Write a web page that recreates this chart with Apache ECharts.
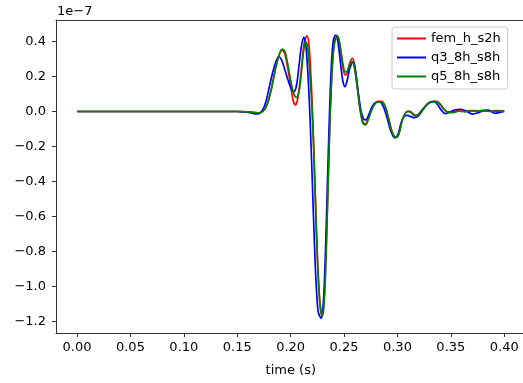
<!DOCTYPE html>
<html>
<head>
<meta charset="utf-8">
<script src="https://cdn.jsdelivr.net/npm/echarts@6/dist/echarts.min.js"></script>
<style>html,body{margin:0;padding:0;background:#fff;overflow:hidden}#c{width:523px;height:383px}</style>
</head>
<body>
<div id="c"></div>
<script>
// values in units of 1e-7
const fem_t = [0,0.15,0.16,0.166,0.170,0.174,0.178,0.182,0.186,0.189,0.192,0.1945,0.197,0.200,0.2025,0.2045,0.2065,0.209,0.211,0.213,0.2153,0.2170,0.2185,0.220,0.2215,0.223,0.2245,0.226,0.2275,0.2292,0.2305,0.232,0.2335,0.235,0.2365,0.238,0.2395,0.2415,0.2440,0.2465,0.249,0.2510,0.2530,0.2555,0.2579,0.260,0.2625,0.265,0.2675,0.2700,0.2725,0.275,0.278,0.2815,0.285,0.2885,0.292,0.295,0.2985,0.3015,0.304,0.307,0.310,0.3125,0.315,0.3175,0.320,0.3235,0.327,0.331,0.3365,0.340,0.3435,0.3475,0.352,0.357,0.363,0.369,0.375,0.381,0.387,0.393,0.400];
const fem_v = [0,0,-0.002,-0.005,-0.007,0.0,0.04,0.13,0.25,0.32,0.35,0.33,0.26,0.15,0.06,0.038,0.07,0.18,0.30,0.40,0.433,0.39,0.26,0.07,-0.18,-0.46,-0.74,-0.96,-1.10,-1.17,-1.14,-1.0,-0.74,-0.42,-0.10,0.14,0.31,0.41,0.432,0.36,0.25,0.209,0.22,0.28,0.304,0.26,0.14,0.02,-0.058,-0.072,-0.045,0.0,0.04,0.058,0.058,0.03,-0.045,-0.115,-0.148,-0.125,-0.06,-0.012,0.002,-0.002,-0.015,-0.022,-0.013,0.012,0.037,0.055,0.058,0.04,0.012,-0.003,-0.002,0.004,0.002,0.005,0.004,0.007,0.003,0.005,0.003];

const q3_t = [0,0.15,0.157,0.163,0.168,0.171,0.174,0.177,0.180,0.1835,0.1865,0.189,0.1915,0.1945,0.1975,0.2005,0.203,0.2055,0.208,0.210,0.2122,0.214,0.2155,0.217,0.2185,0.220,0.2215,0.223,0.2245,0.226,0.2286,0.2300,0.2315,0.233,0.2345,0.236,0.2375,0.239,0.2405,0.2423,0.2445,0.247,0.249,0.2509,0.2530,0.2555,0.2585,0.261,0.2635,0.266,0.2685,0.2705,0.273,0.2765,0.2800,0.2835,0.287,0.2905,0.294,0.2975,0.3005,0.303,0.306,0.3095,0.312,0.315,0.318,0.321,0.3245,0.328,0.3315,0.3344,0.3375,0.341,0.3445,0.3485,0.3540,0.3597,0.365,0.370,0.375,0.380,0.385,0.3915,0.396,0.400];
const q3_v = [0,0,-0.002,-0.008,-0.014,-0.01,0.01,0.06,0.14,0.23,0.29,0.313,0.295,0.24,0.18,0.13,0.113,0.15,0.27,0.37,0.424,0.39,0.28,0.12,-0.09,-0.35,-0.62,-0.87,-1.05,-1.15,-1.182,-1.14,-0.99,-0.72,-0.40,-0.08,0.18,0.35,0.42,0.437,0.39,0.26,0.17,0.142,0.18,0.25,0.285,0.22,0.10,0.0,-0.045,-0.048,-0.02,0.03,0.053,0.055,0.025,-0.04,-0.115,-0.15,-0.13,-0.075,-0.03,-0.022,-0.028,-0.035,-0.032,-0.015,0.015,0.042,0.056,0.058,0.04,0.008,-0.012,-0.005,0.01,0.013,0.0,-0.015,-0.008,0.004,0.008,-0.01,-0.005,0.0];

const q5_t = [0,0.15,0.16,0.166,0.170,0.174,0.178,0.182,0.186,0.189,0.192,0.1945,0.197,0.200,0.203,0.2055,0.208,0.210,0.212,0.214,0.2155,0.217,0.2185,0.220,0.2215,0.223,0.2245,0.226,0.2275,0.229,0.2298,0.2310,0.2325,0.234,0.2355,0.237,0.2385,0.240,0.242,0.2442,0.2465,0.249,0.2510,0.2530,0.2555,0.2577,0.260,0.2625,0.265,0.2675,0.2700,0.2725,0.275,0.278,0.2815,0.2855,0.289,0.292,0.295,0.2985,0.3015,0.304,0.307,0.3100,0.3125,0.315,0.3175,0.320,0.3235,0.327,0.331,0.337,0.3405,0.344,0.348,0.352,0.357,0.363,0.369,0.375,0.381,0.387,0.393,0.400];
const q5_v = [0,0,-0.002,-0.006,-0.008,0.0,0.04,0.13,0.25,0.32,0.357,0.345,0.28,0.18,0.10,0.08,0.12,0.22,0.34,0.40,0.38,0.30,0.17,0.02,-0.20,-0.48,-0.75,-0.96,-1.10,-1.16,-1.165,-1.12,-0.95,-0.65,-0.33,-0.02,0.20,0.34,0.415,0.427,0.37,0.27,0.227,0.23,0.27,0.285,0.24,0.13,0.01,-0.065,-0.077,-0.05,-0.005,0.035,0.055,0.054,0.02,-0.05,-0.12,-0.15,-0.125,-0.06,-0.015,0.0,-0.005,-0.02,-0.025,-0.015,0.01,0.035,0.053,0.057,0.04,0.01,-0.006,-0.006,0.002,-0.002,0.003,0.002,0.005,0.0,0.002,0.002];

const xTicks = [0, 0.05, 0.1, 0.15, 0.2, 0.25, 0.3, 0.35, 0.4];
const yTicks = [-1.2, -1.0, -0.8, -0.6, -0.4, -0.2, 0, 0.2, 0.4];
const seriesNames = ['fem_h_s2h', 'q3_8h_s8h', 'q5_8h_s8h'];
const seriesColors = ['#ff0000', '#0000ff', '#008000'];

const pair = (t, v) => t.map((x, i) => [x, v[i]]);
const seriesData = [pair(fem_t, fem_v), pair(q3_t, q3_v), pair(q5_t, q5_v)];

const FONT = 'DejaVu Sans';
const AX = {lineStyle: {color: '#333', width: 1}};
const chart = echarts.init(document.getElementById('c'), null, {renderer: 'canvas'});
chart.setOption({
  animation: false,
  backgroundColor: '#fff',
  textStyle: {fontFamily: FONT},
  grid: {left: 56, top: 20, width: 469.6, height: 313, show: false, containLabel: false, outerBoundsMode: 'none'},
  xAxis: [{
    type: 'value', min: -0.0197, max: 0.42, position: 'bottom',
    name: 'time (s)', nameLocation: 'middle', nameGap: 31,
    nameTextStyle: {color: '#000', fontSize: 13, fontFamily: FONT},
    axisLine: Object.assign({show: true, onZero: false}, AX),
    splitLine: {show: false},
    axisTick: {show: true, length: 4, lineStyle: {color: '#333'}, customValues: xTicks},
    axisLabel: {color: '#000', fontSize: 13, fontFamily: FONT, margin: 8, customValues: xTicks,
      formatter: v => v.toFixed(2)}
  }, {
    type: 'value', min: -0.0197, max: 0.42, position: 'top',
    axisLine: Object.assign({show: true, onZero: false}, AX),
    axisTick: {show: false}, axisLabel: {show: false}, splitLine: {show: false}
  }],
  yAxis: [{
    type: 'value', min: -1.2657, max: 0.5229, position: 'left',
    axisLine: Object.assign({show: true, onZero: false}, AX),
    splitLine: {show: false},
    axisTick: {show: true, length: 4, lineStyle: {color: '#333'}, customValues: yTicks},
    axisLabel: {color: '#000', fontSize: 13, fontFamily: FONT, margin: 10, customValues: yTicks,
      formatter: v => (v < -1e-9 ? '\u2212' : '') + Math.abs(v).toFixed(1)}
  }, {
    type: 'value', min: -1.2657, max: 0.5229, position: 'right',
    axisLine: Object.assign({show: true, onZero: false}, AX),
    axisTick: {show: false}, axisLabel: {show: false}, splitLine: {show: false}
  }],
  legend: {
    data: seriesNames, orient: 'vertical', left: 392, top: 27,
    padding: [5, 7, 6, 5], itemGap: 6, itemWidth: 29, itemHeight: 2, itemTextGap: 11,
    icon: 'rect',
    borderColor: '#cccccc', borderWidth: 1, borderRadius: 3,
    backgroundColor: 'rgba(255,255,255,0.8)',
    textStyle: {color: '#000', fontSize: 13, fontFamily: FONT}
  },
  graphic: [{type: 'text', left: 57, top: 5, style: {text: '1e\u22127', fill: '#000', font: '13px "DejaVu Sans"'}}],
  series: seriesNames.map((n, i) => ({
    name: n, type: 'line', xAxisIndex: 0, yAxisIndex: 0, data: seriesData[i], symbol: 'none', smooth: 0.3,
    lineStyle: {color: seriesColors[i], width: 1.7}, itemStyle: {color: seriesColors[i]},
    z: 2 + i
  }))
});
</script>
</body>
</html>
